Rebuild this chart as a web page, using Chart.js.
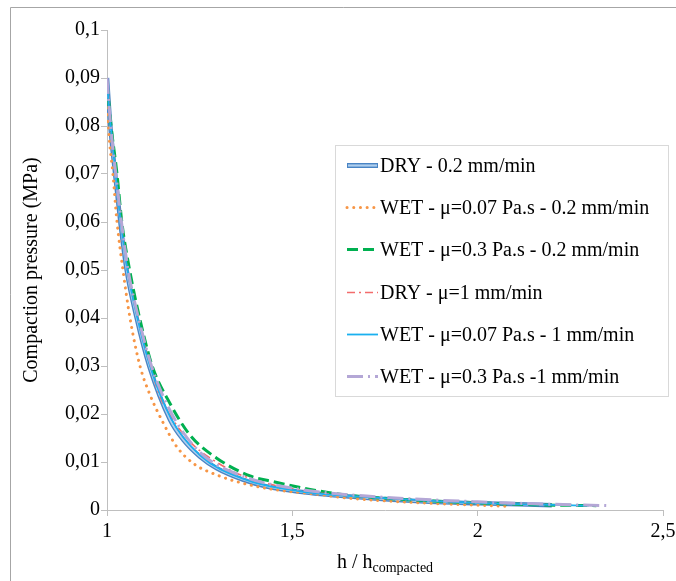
<!DOCTYPE html>
<html lang="en">
<head>
<meta charset="UTF-8" />
<title>Compaction pressure vs h / h compacted</title>
<script src="https://cdn.jsdelivr.net/npm/chart.js"></script>
<style>
  body { margin: 0; background: #fff; }
  #wrap { width: 676px; height: 581px; position: relative; }
</style>
</head>
<body>
<div id="wrap"><canvas id="chart"></canvas></div>
<script>
// h / h_compacted (x) and compaction pressure in MPa (y)
const dry02H = [1.000, 1.009, 1.022, 1.036, 1.053, 1.080, 1.114, 1.170, 1.206, 1.251, 1.296, 1.368, 1.431, 1.521, 1.656, 1.871, 2.006, 2.200];
const dry02P = [0.0900, 0.0800, 0.0700, 0.0600, 0.0500, 0.0400, 0.0300, 0.0188, 0.0146, 0.0111, 0.0087, 0.0063, 0.0049, 0.0038, 0.0028, 0.0017, 0.0014, 0.0010];

const wet007_02H = [1.000, 1.004, 1.016, 1.027, 1.043, 1.062, 1.089, 1.116, 1.152, 1.188, 1.233, 1.296, 1.386, 1.476, 1.566, 1.647, 1.871, 2.074];
const wet007_02P = [0.0880, 0.0800, 0.0700, 0.0600, 0.0500, 0.0400, 0.0300, 0.0240, 0.0181, 0.0132, 0.0097, 0.0073, 0.0052, 0.0040, 0.0033, 0.0025, 0.0014, 0.0008];

const wet03_02H = [1.000, 1.011, 1.027, 1.040, 1.061, 1.088, 1.122, 1.170, 1.224, 1.296, 1.386, 1.449, 1.548, 1.647, 1.871, 2.000, 2.150, 2.320];
const wet03_02P = [0.0890, 0.0800, 0.0700, 0.0600, 0.0500, 0.0400, 0.0300, 0.0222, 0.0156, 0.0108, 0.0071, 0.0059, 0.0043, 0.0031, 0.0019, 0.0015, 0.0011, 0.0009];

const dry1H = [1.000, 1.010, 1.023, 1.038, 1.055, 1.083, 1.117, 1.143, 1.170, 1.197, 1.233, 1.287, 1.341, 1.413, 1.494, 1.566, 1.750, 2.000, 2.250];
const dry1P = [0.0900, 0.0800, 0.0700, 0.0600, 0.0500, 0.0400, 0.0300, 0.0236, 0.0198, 0.0167, 0.0135, 0.0104, 0.0080, 0.0059, 0.0045, 0.0036, 0.0024, 0.0015, 0.0010];

const wet007_1H = [1.000, 1.010, 1.023, 1.037, 1.055, 1.082, 1.116, 1.172, 1.251, 1.368, 1.521, 1.700, 2.000, 2.300];
const wet007_1P = [0.0890, 0.0800, 0.0700, 0.0600, 0.0500, 0.0400, 0.0300, 0.0192, 0.0114, 0.0065, 0.0039, 0.0027, 0.0015, 0.0009];

const wet03_1H = [1.000, 1.010, 1.024, 1.039, 1.057, 1.085, 1.120, 1.175, 1.251, 1.368, 1.521, 1.700, 2.000, 2.200, 2.357];
const wet03_1P = [0.0900, 0.0800, 0.0700, 0.0600, 0.0500, 0.0400, 0.0300, 0.0200, 0.0120, 0.0070, 0.0043, 0.0029, 0.0017, 0.0012, 0.0009];

const seriesLabels = [
  'DRY - 0.2 mm/min',
  'WET - \u03bc=0.07 Pa.s - 0.2 mm/min',
  'WET - \u03bc=0.3 Pa.s - 0.2 mm/min',
  'DRY - \u03bc=1 mm/min',
  'WET - \u03bc=0.07 Pa.s - 1 mm/min',
  'WET - \u03bc=0.3 Pa.s -1 mm/min'
];

const xTickValues = [1, 1.5, 2, 2.5];
const yTickValues = [0, 0.01, 0.02, 0.03, 0.04, 0.05, 0.06, 0.07, 0.08, 0.09, 0.1];
const yAxisTitle = 'Compaction pressure (MPa)';
const xAxisTitle = 'h / h';
const xAxisTitleSub = 'compacted';

const SERIF = "'Liberation Serif', 'Times New Roman', serif";
const AXIS_GREY = '#bfbfbf';

function pts(h, p) {
  return h.map((x, i) => ({ x: x, y: p[i] }));
}
function fmt(v) {
  return String(+v.toFixed(2)).replace('.', ',');
}

const datasets = [
  { label: seriesLabels[0], data: pts(dry02H, dry02P), borderColor: '#4a84c4', borderWidth: 4.5, order: 7,
    innerColor: '#b0cfee' },
  { label: '', data: pts(dry02H, dry02P), borderColor: '#b0cfee', borderWidth: 1.8, order: 6, inner: true },
  { label: seriesLabels[1], data: pts(wet007_02H, wet007_02P), borderColor: '#f79646', borderWidth: 3,
    borderDash: [0.1, 6.6], borderCapStyle: 'round', order: 5 },
  { label: seriesLabels[2], data: pts(wet03_02H, wet03_02P), borderColor: '#00b050', borderWidth: 3,
    borderDash: [11, 5], order: 4 },
  { label: seriesLabels[3], data: pts(dry1H, dry1P), borderColor: '#f36c6c', borderWidth: 1.6,
    borderDash: [8, 4, 2, 4], order: 3 },
  { label: seriesLabels[4], data: pts(wet007_1H, wet007_1P), borderColor: '#1ab0ef', borderWidth: 1.8, order: 2 },
  { label: seriesLabels[5], data: pts(wet03_1H, wet03_1P), borderColor: '#b4a7d6', borderWidth: 3,
    borderDash: [16, 5, 2, 5], order: 1 }
];

// frame of the picture (only top and left edges are visible)
const framePlugin = {
  id: 'frame',
  beforeDraw(chart) {
    const ctx = chart.ctx;
    ctx.save();
    ctx.fillStyle = '#fff';
    ctx.fillRect(0, 0, chart.width, chart.height);
    ctx.strokeStyle = '#a6a6a6';
    ctx.lineWidth = 1;
    ctx.beginPath();
    ctx.moveTo(10.5, chart.height);
    ctx.lineTo(10.5, 7.5);
    ctx.lineTo(chart.width, 7.5);
    ctx.stroke();
    ctx.restore();
  }
};

// x-axis title with subscript
const xTitlePlugin = {
  id: 'xTitle',
  afterDraw(chart) {
    const ctx = chart.ctx;
    const area = chart.chartArea;
    const cx = (area.left + area.right) / 2;
    const base = chart.scales.x.bottom - 13;
    ctx.save();
    ctx.fillStyle = '#000';
    ctx.textBaseline = 'alphabetic';
    ctx.textAlign = 'left';
    ctx.font = '20px ' + SERIF;
    const w1 = ctx.measureText(xAxisTitle).width;
    ctx.font = '14px ' + SERIF;
    const w2 = ctx.measureText(xAxisTitleSub).width;
    const x0 = cx - (w1 + w2) / 2;
    ctx.font = '20px ' + SERIF;
    ctx.fillText(xAxisTitle, x0, base);
    ctx.font = '14px ' + SERIF;
    ctx.fillText(xAxisTitleSub, x0 + w1, base + 4);
    ctx.restore();
  }
};

// legend box inside the plot, Excel style
const legendPlugin = {
  id: 'boxLegend',
  afterDraw(chart) {
    const ctx = chart.ctx;
    const left = 335.5, top = 145.5, width = 333, height = 251;
    const firstRow = 165, rowGap = 42.2;
    const lx0 = 347, lx1 = 378, tx = 380;
    ctx.save();
    ctx.fillStyle = '#fff';
    ctx.fillRect(left, top, width, height);
    ctx.strokeStyle = '#d9d9d9';
    ctx.lineWidth = 1;
    ctx.strokeRect(left, top, width, height);

    let row = 0;
    chart.data.datasets.forEach(ds => {
      if (ds.inner) return;
      const y = Math.round(firstRow + row * rowGap) + 0.5;
      ctx.save();
      ctx.strokeStyle = ds.borderColor;
      ctx.lineWidth = ds.innerColor ? 5 : ds.borderWidth;
      ctx.lineCap = ds.borderCapStyle || 'butt';
      ctx.setLineDash(ds.borderDash || []);
      ctx.beginPath();
      ctx.moveTo(lx0, y);
      ctx.lineTo(lx1, y);
      ctx.stroke();
      if (ds.innerColor) {
        ctx.strokeStyle = ds.innerColor;
        ctx.lineWidth = 2.2;
        ctx.beginPath();
        ctx.moveTo(lx0 + 1, y);
        ctx.lineTo(lx1 - 1, y);
        ctx.stroke();
      }
      ctx.restore();
      ctx.fillStyle = '#000';
      ctx.font = '20px ' + SERIF;
      ctx.textBaseline = 'middle';
      ctx.textAlign = 'left';
      ctx.fillText(ds.label, tx, y + 1);
      row++;
    });
    ctx.restore();
  }
};

Chart.defaults.font.family = SERIF;
Chart.defaults.font.size = 20;
Chart.defaults.color = '#000';

new Chart(document.getElementById('chart'), {
  type: 'scatter',
  data: { datasets: datasets },
  options: {
    responsive: true,
    maintainAspectRatio: false,
    animation: false,
    showLine: true,
    layout: { padding: { left: 0, top: 30, right: 13, bottom: 0 } },
    elements: {
      point: { radius: 0, hoverRadius: 0 },
      line: { fill: false, cubicInterpolationMode: 'monotone' }
    },
    plugins: {
      legend: { display: false },
      tooltip: { enabled: false }
    },
    scales: {
      x: {
        type: 'linear',
        position: 'bottom',
        min: 1,
        max: 2.5,
        afterBuildTicks: s => { s.ticks = xTickValues.map(v => ({ value: v })); },
        afterFit: s => { s.height = 71; s.paddingLeft = 0; s.paddingRight = 0; },
        ticks: { padding: 4, callback: v => fmt(v), maxRotation: 0 },
        grid: { drawOnChartArea: false, drawTicks: true, tickLength: 6, color: AXIS_GREY },
        border: { color: AXIS_GREY, width: 1 }
      },
      y: {
        type: 'linear',
        min: 0,
        max: 0.1,
        afterBuildTicks: s => { s.ticks = yTickValues.map(v => ({ value: v })); },
        afterFit: s => { s.width = 107; },
        ticks: { padding: 1, callback: v => fmt(v) },
        grid: { drawOnChartArea: false, drawTicks: true, tickLength: 6, color: AXIS_GREY },
        border: { color: AXIS_GREY, width: 1 },
        title: { display: true, text: yAxisTitle, padding: { top: 20, bottom: 0 }, font: { size: 20 } }
      }
    }
  },
  plugins: [framePlugin, xTitlePlugin, legendPlugin]
});
</script>
</body>
</html>
